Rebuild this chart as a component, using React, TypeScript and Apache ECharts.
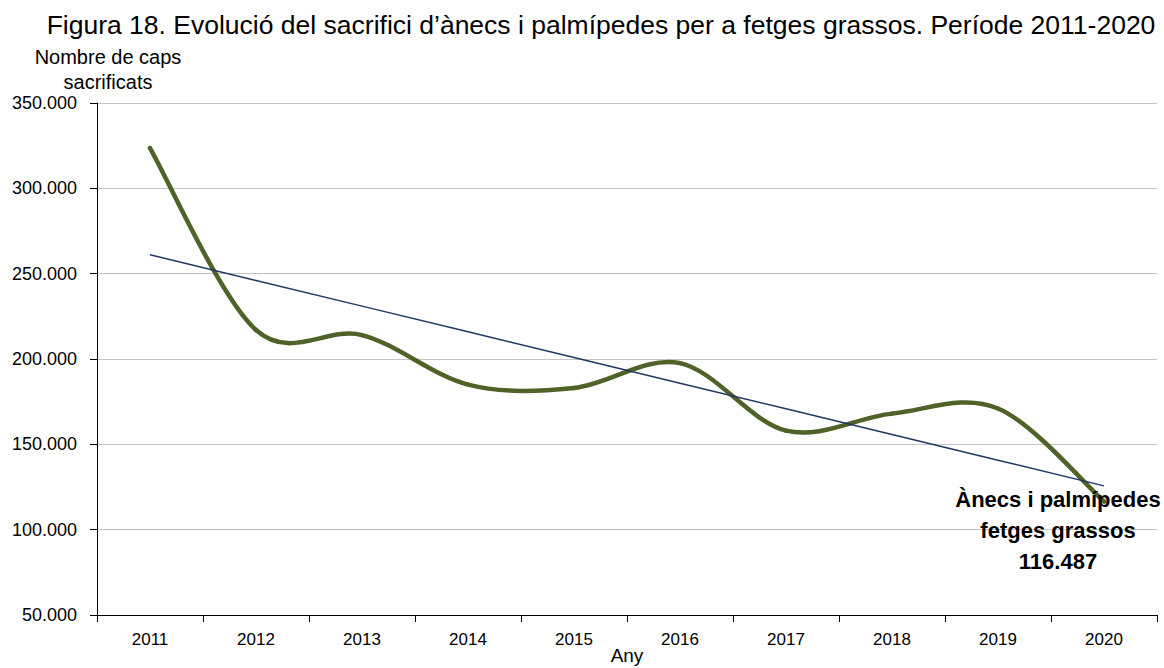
import React, { useEffect, useRef } from "react";
import * as echarts from "echarts";

const TITLE = "Figura 18. Evolució del sacrifici d’ànecs i palmípedes per a fetges grassos. Període 2011-2020";
const Y_NAME = "Nombre de caps\nsacrificats";
const X_NAME = "Any";
const SERIES_NAME = "Ànecs i palmípedes fetges grassos";
const LABEL_LINES = ["Ànecs i palmípedes", "fetges grassos"];
const years = ["2011", "2012", "2013", "2014", "2015", "2016", "2017", "2018", "2019", "2020"];
const values = [323600, 217000, 214000, 185000, 183000, 197600, 158000, 168000, 171000, 116487];
const Y_MIN = 50000;
const Y_MAX = 350000;
const Y_STEP = 50000;

const fmt = (v: number) => String(Math.round(v)).replace(/\B(?=(\d{3})+(?!\d))/g, ".");

function trend(vals: number[]): number[] {
  const n = vals.length;
  const mx = (n - 1) / 2;
  const my = vals.reduce((a, b) => a + b, 0) / n;
  let sxy = 0, sxx = 0;
  vals.forEach((v, i) => { sxy += (i - mx) * (v - my); sxx += (i - mx) * (i - mx); });
  const b = sxy / sxx;
  return vals.map((_, i) => my + b * (i - mx));
}

export default function App() {
  const ref = useRef<HTMLDivElement>(null);
  useEffect(() => {
    if (!ref.current) return;
    const chart = echarts.init(ref.current, null, { renderer: "svg" });
    const font = "'Liberation Sans', Arial, sans-serif";
    const n = values.length;
    const clamp = (j: number) => Math.max(0, Math.min(n - 1, j));

    chart.setOption({
      animation: false,
      backgroundColor: "#fff",
      textStyle: { fontFamily: font },
      title: {
        text: TITLE,
        left: 596,
        textAlign: "center",
        top: 6,
        textStyle: { fontFamily: font, fontWeight: "normal", fontSize: 26.5, color: "#000" },
      },
      grid: { left: 97, right: 7, top: 103, bottom: 53, containLabel: false, outerBoundsMode: "none" },
      xAxis: {
        type: "category",
        data: years,
        boundaryGap: true,
        name: X_NAME,
        nameLocation: "middle",
        nameGap: 31,
        nameMoveOverlap: false,
        nameTextStyle: { fontFamily: font, fontSize: 19, lineHeight: 19, color: "#000" },
        axisLine: { lineStyle: { color: "#000", width: 1 } },
        axisTick: { show: true, alignWithLabel: false, length: 7, lineStyle: { color: "#000" } },
        axisLabel: { fontFamily: font, fontSize: 17, color: "#000", margin: 16 },
        splitLine: { show: false },
      },
      yAxis: {
        type: "value",
        min: Y_MIN,
        max: Y_MAX,
        interval: Y_STEP,
        name: Y_NAME,
        nameLocation: "end",
        nameGap: 9,
        nameMoveOverlap: false,
        nameTextStyle: {
          fontFamily: font,
          fontSize: 20,
          color: "#000",
          align: "center",
          lineHeight: 25,
          padding: [0, 0, 0, 22],
        },
        axisLine: { show: true, lineStyle: { color: "#000", width: 1 } },
        axisTick: { show: true, length: 7, inside: false, lineStyle: { color: "#000" } },
        axisLabel: { fontFamily: font, fontSize: 18, color: "#000", margin: 20, formatter: (v: number) => fmt(v) },
        splitLine: { show: true, lineStyle: { color: "#c4c4c4", width: 1 } },
      },
      series: [
        {
          name: SERIES_NAME,
          type: "custom",
          data: values.map((v, i) => [i, v]),
          encode: { x: 0, y: 1 },
          z: 3,
          renderItem: (params: any, api: any) => {
            const i = params.dataIndex;
            const P = (j: number) => api.coord([clamp(j), values[clamp(j)]]);
            if (i === n - 1) {
              const p = P(i);
              return {
                type: "text",
                z2: 10,
                style: {
                  text: LABEL_LINES.join("\n") + "\n" + fmt(values[i]),
                  x: p[0] - 46,
                  y: p[1] + 29,
                  align: "center",
                  verticalAlign: "middle",
                  fontFamily: font,
                  fontWeight: "bold",
                  fontSize: 22,
                  lineHeight: 31,
                  fill: "#000",
                },
              };
            }
            const p0 = P(i - 1), p1 = P(i), p2 = P(i + 1), p3 = P(i + 2);
            return {
              type: "bezierCurve",
              shape: {
                x1: p1[0],
                y1: p1[1],
                x2: p2[0],
                y2: p2[1],
                cpx1: p1[0] + (p2[0] - p0[0]) / 6,
                cpy1: p1[1] + (p2[1] - p0[1]) / 6,
                cpx2: p2[0] - (p3[0] - p1[0]) / 6,
                cpy2: p2[1] - (p3[1] - p1[1]) / 6,
              },
              style: { stroke: "#4f6228", lineWidth: 4.5, fill: null, lineCap: "round" },
            };
          },
        },
        {
          name: "Tendència",
          type: "line",
          data: trend(values),
          smooth: false,
          symbol: "none",
          lineStyle: { color: "#1f3864", width: 1.5 },
          z: 4,
        },
      ],
    });
    return () => chart.dispose();
  }, []);
  return <div ref={ref} style={{ width: 1164, height: 668, position: "absolute", left: 0, top: 0 }} />;
}
